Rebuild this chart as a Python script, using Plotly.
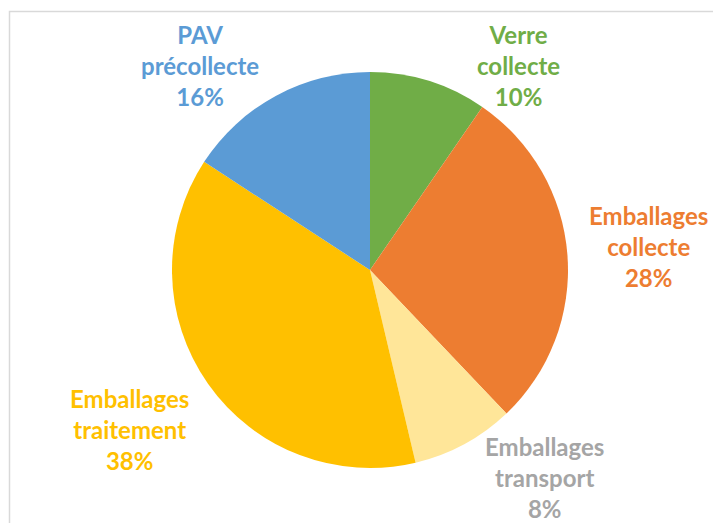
import plotly.graph_objects as go

W, H = 721, 523
OFF = 8  # the page body margin shifts the figure by this many pixels

categories = ["Verre collecte", "Emballages collecte", "Emballages transport",
              "Emballages traitement", "PAV précollecte"]
values = [9.6, 28.3, 8.4, 37.9, 15.8]
colors = ["#70AD47", "#ED7D31", "#FFE699", "#FFC000", "#5B9BD5"]
label_colors = ["#70AD47", "#ED7D31", "#A5A5A5", "#FFC000", "#5B9BD5"]
# label block centres in pixels (x, y from top), as placed in the original
label_pos = [(518, 65), (648, 247), (544, 477), (129, 429), (200, 65)]

cx, cy, r = 370 - OFF, 270 - OFF, 198


def px(x):
    return (x - OFF) / W


def py(y):
    return 1 - (y - OFF) / H


fig = go.Figure(go.Pie(
    labels=categories, values=values, sort=False, direction="clockwise",
    rotation=0, marker=dict(colors=colors, line=dict(width=0)),
    textinfo="none", hoverinfo="label+percent", showlegend=False,
    domain=dict(x=[(cx - r) / W, (cx + r) / W], y=[1 - (cy + r) / H, 1 - (cy - r) / H]),
))

total = sum(values)
for name, v, col, (lx, ly) in zip(categories, values, label_colors, label_pos):
    first, rest = name.split(" ", 1)
    fig.add_annotation(
        x=px(lx), y=py(ly), xref="paper", yref="paper",
        text=f"<b>{first}<br>{rest}<br>{round(v / total * 100)}%</b>",
        showarrow=False, xanchor="center", yanchor="middle", align="center",
        font=dict(family="Lato", size=24, color=col),
    )

# chart frame (partially cropped in the original)
fig.add_shape(type="rect", xref="paper", yref="paper",
              x0=px(9.5), x1=1.05, y0=-0.05, y1=py(11.5),
              line=dict(color="#D9D9D9", width=1.5), fillcolor="rgba(0,0,0,0)")

fig.update_layout(width=W, height=H, margin=dict(l=0, r=0, t=0, b=0),
                  paper_bgcolor="white", plot_bgcolor="white")

fig.write_html("out.html")
